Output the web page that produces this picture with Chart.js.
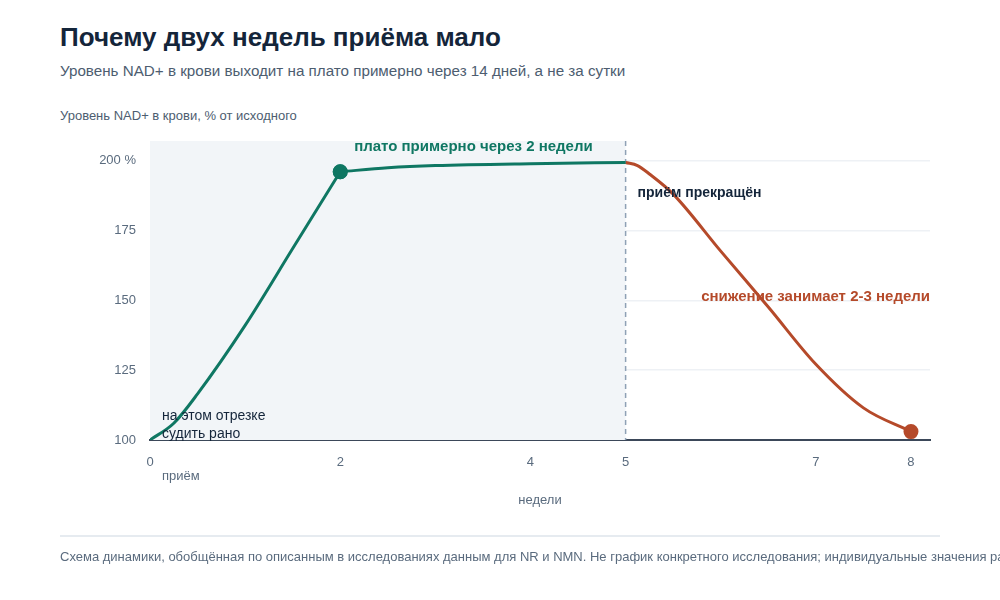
<!DOCTYPE html>
<html lang="ru">
<head>
<meta charset="utf-8">
<script src="https://cdn.jsdelivr.net/npm/chart.js@4/dist/chart.umd.min.js"></script>
<style>
  html, body { margin: 0; padding: 0; background: #fff; overflow: hidden; }
  body { width: 1000px; height: 600px; position: relative; font-family: "Liberation Sans", Arial, sans-serif; }
  .title { position: absolute; left: 60px; top: 22px; font-size: 26px; font-weight: bold; color: #14253a; white-space: nowrap; }
  .subtitle { position: absolute; left: 60px; top: 62px; font-size: 15.2px; color: #4d5d70; white-space: nowrap; }
  .ylabel { position: absolute; left: 60px; top: 108px; font-size: 13px; color: #4d5d70; white-space: nowrap; }
  .rule { position: absolute; left: 60px; top: 535px; width: 880px; height: 2px; background: #e6ebf0; }
  .footer { position: absolute; left: 60px; top: 549px; font-size: 13px; color: #5a6b7e; white-space: nowrap; }
  #wrap { position: absolute; left: 0; top: 0; width: 1000px; height: 600px; }
</style>
</head>
<body>
<div class="title">Почему двух недель приёма мало</div>
<div class="subtitle">Уровень NAD+ в крови выходит на плато примерно через 14 дней, а не за сутки</div>
<div class="ylabel">Уровень NAD+ в крови, % от исходного</div>
<div id="wrap"><canvas id="nadChart"></canvas></div>
<div class="rule"></div>
<div class="footer">Схема динамики, обобщённая по описанным в исследованиях данным для NR и NMN. Не график конкретного исследования; индивидуальные значения различаются.</div>

<script>
// weeks / NAD+ level in % of baseline
const riseWeeks = [0, 0.25, 0.5, 1, 1.5, 2];
const riseLevel = [100, 106, 116.5, 141, 168.5, 196];
const plateauWeeks = [2, 2.5, 3, 4, 5];
const plateauLevel = [196, 197.4, 198.2, 198.9, 199.3];
const stopWeeks = [5, 5.125, 5.25, 5.5, 6, 6.5, 7, 7.5, 8];
const stopLevel = [199.3, 198.2, 195.2, 188, 167.6, 147.6, 127.1, 111.5, 103];

const xTicks = [0, 2, 4, 5, 7, 8];
const yTicks = [100, 125, 150, 175, 200];
const stopWeek = 5;

const green = '#0f7763';
const red = '#b54a2a';
const dark = '#14253a';

function toPoints(xs, ys) {
    return xs.map((x, i) => ({ x: x, y: ys[i] }));
}

// shaded intake period + dashed "stop" line + text notes
const notesPlugin = {
    id: 'notes',
    beforeDatasetsDraw(chart) {
        const { ctx, chartArea, scales } = chart;
        const x0 = scales.x.getPixelForValue(0);
        const x5 = scales.x.getPixelForValue(stopWeek);
        ctx.save();
        ctx.fillStyle = '#f2f5f8';
        ctx.fillRect(x0, chartArea.top, x5 - x0, chartArea.bottom - chartArea.top);
        ctx.strokeStyle = '#8fa1b5';
        ctx.lineWidth = 1.5;
        ctx.setLineDash([5, 4]);
        ctx.beginPath();
        ctx.moveTo(x5, chartArea.top);
        ctx.lineTo(x5, chartArea.bottom);
        ctx.stroke();
        ctx.restore();
    },
    afterDatasetsDraw(chart) {
        const { ctx, scales } = chart;
        const x = v => scales.x.getPixelForValue(v);
        const y = v => scales.y.getPixelForValue(v);
        ctx.save();
        ctx.textBaseline = 'middle';

        ctx.font = 'bold 15px "Liberation Sans", Arial, sans-serif';
        ctx.fillStyle = green;
        ctx.textAlign = 'center';
        ctx.fillText('плато примерно через 2 недели', x(3.4), y(205));

        ctx.font = 'bold 14px "Liberation Sans", Arial, sans-serif';
        ctx.fillStyle = dark;
        ctx.textAlign = 'left';
        ctx.fillText('приём прекращён', x(5) + 12, y(188.5));

        ctx.font = 'bold 15px "Liberation Sans", Arial, sans-serif';
        ctx.fillStyle = red;
        ctx.textAlign = 'right';
        ctx.fillText('снижение занимает 2-3 недели', chart.chartArea.right, y(151.2));

        ctx.font = '14px "Liberation Sans", Arial, sans-serif';
        ctx.fillStyle = dark;
        ctx.textAlign = 'left';
        ctx.fillText('на этом отрезке', x(0) + 12, y(108.6));
        ctx.fillText('судить рано', x(0) + 12, y(102.2));

        ctx.font = '13px "Liberation Sans", Arial, sans-serif';
        ctx.fillStyle = '#5a6b7e';
        ctx.fillText('приём', x(0) + 12, scales.x.top + 36);
        ctx.restore();
    }
};

const lineStyle = (color, markAt) => ({
    borderColor: color,
    backgroundColor: color,
    borderWidth: 3,
    cubicInterpolationMode: 'monotone',
    pointRadius: c => c.raw && c.raw.x === markAt ? 6 : 0,
    pointHoverRadius: 0
});

const ctx = document.getElementById('nadChart').getContext('2d');
new Chart(ctx, {
    type: 'line',
    data: {
        datasets: [
            Object.assign({ label: 'рост', data: toPoints(riseWeeks, riseLevel) }, lineStyle(green, 2)),
            Object.assign({ label: 'плато', data: toPoints(plateauWeeks, plateauLevel) }, lineStyle(green, 2)),
            Object.assign({ label: 'после отмены', data: toPoints(stopWeeks, stopLevel) }, lineStyle(red, 8))
        ]
    },
    options: {
        responsive: true,
        maintainAspectRatio: false,
        animation: false,
        layout: { padding: { left: 60, right: 70, top: 141, bottom: 80 } },
        plugins: {
            legend: { display: false },
            tooltip: { enabled: false }
        },
        scales: {
            x: {
                type: 'linear',
                min: 0,
                max: 8.2,
                afterBuildTicks: axis => { axis.ticks = xTicks.map(v => ({ value: v })); },
                afterFit: axis => { axis.height = 80; },
                grid: { display: false },
                border: { display: true, color: '#3b4859', width: 2 },
                ticks: {
                    color: '#5a6b7e',
                    font: { size: 13, family: '"Liberation Sans", Arial, sans-serif' },
                    padding: 7,
                    maxRotation: 0
                },
                title: {
                    display: true,
                    text: 'недели',
                    color: '#5a6b7e',
                    font: { size: 13, family: '"Liberation Sans", Arial, sans-serif' },
                    padding: { top: 0, bottom: 12 }
                }
            },
            y: {
                min: 100,
                max: 207,
                afterBuildTicks: axis => { axis.ticks = yTicks.map(v => ({ value: v })); },
                afterFit: axis => { axis.width = 90; },
                border: { display: false },
                grid: {
                    drawTicks: false,
                    color: c => c.tick && c.tick.value === 100 ? 'rgba(0,0,0,0)' : '#eef1f5',
                    lineWidth: 1.5
                },
                ticks: {
                    color: '#5a6b7e',
                    font: { size: 13, family: '"Liberation Sans", Arial, sans-serif' },
                    padding: 14,
                    callback: v => v === 200 ? '200 %' : String(v)
                }
            }
        }
    },
    plugins: [notesPlugin]
});
</script>
</body>
</html>
